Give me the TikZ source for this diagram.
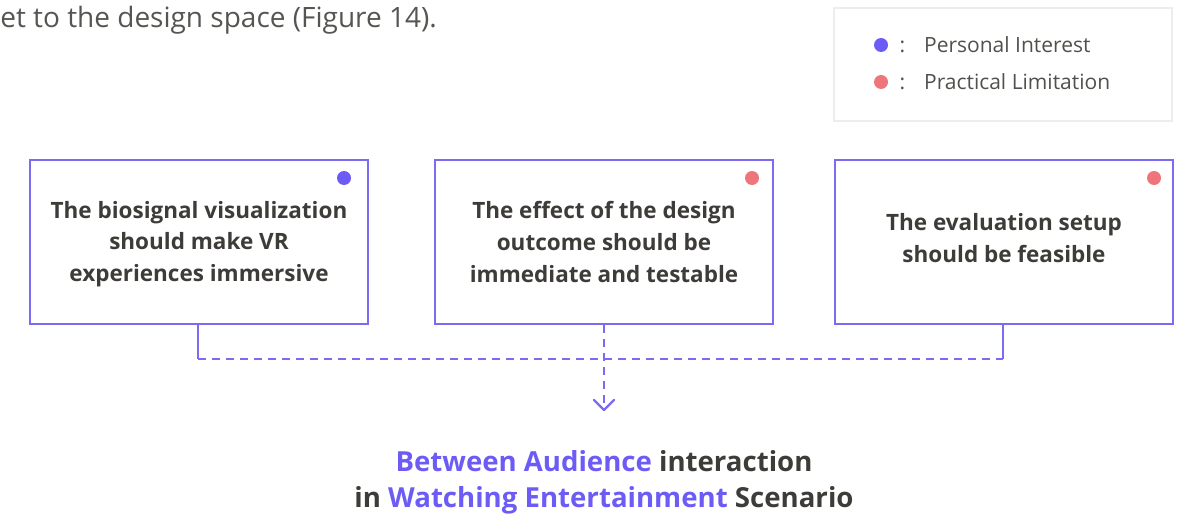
\documentclass[tikz,border=0pt]{standalone}
\usepackage{fontspec}
\setmainfont{Open Sans}
\usetikzlibrary{arrows.meta,calc}
\definecolor{frame}{HTML}{7B6AF2}
\definecolor{ink}{HTML}{3D3C38}
\definecolor{interest}{HTML}{6C5CF5}
\definecolor{limit}{HTML}{EE757A}
\definecolor{legendline}{HTML}{EDEDED}
\definecolor{prose}{HTML}{555552}
\tikzset{
  card/.style={draw=frame, line width=2.2pt, minimum width=338pt, minimum height=164pt, inner sep=0pt},
  cardtext/.style={text=ink, font=\fontsize{22.5}{31.5}\selectfont\bfseries, align=center},
  marker/.style={circle, inner sep=0pt, minimum size=14pt},
  legendtext/.style={text=ink!90, font=\fontsize{21}{20}\selectfont, anchor=west},
  feed/.style={draw=frame, line width=2.4pt},
  feeddash/.style={draw=frame, line width=2.4pt, dash pattern=on 8pt off 6pt},
}
\begin{document}
\begin{tikzpicture}[x=1pt,y=-1pt]
\useasboundingbox (0,0) rectangle (1182,516);

% running text above
\node[anchor=base east, text=prose, font=\fontsize{28}{30}\selectfont, inner sep=0pt] (prose) at (437,28) {et to the design space (Figure 14).};

% legend
\node[draw=legendline, line width=2pt, minimum width=338pt, minimum height=113pt, inner sep=0pt] (legend) at (1003,64.5) {};
\node[marker, fill=interest] (li) at (881,45) {};
\node[marker, fill=limit] (ll) at (881,82) {};
\node[legendtext] (lit) at (896,45) {:\hspace{19pt}Personal Interest};
\node[legendtext] (llt) at (896,82) {:\hspace{19pt}Practical Limitation};

% requirement cards
\node[card] (c1) at (199,242) {};
\node[card] (c2) at (604,242) {};
\node[card] (c3) at (1004,242) {};

\node[marker, fill=interest] (d1) at (344,178) {};
\node[marker, fill=limit] (d2) at (752,178) {};
\node[marker, fill=limit] (d3) at (1154,178) {};

\node[cardtext] (t1) at (199,244) {The biosignal visualization\\should make VR\\experiences immersive};
\node[cardtext] (t2) at (604,242) {The effect of the design\\outcome should be\\immediate and testable};
\node[cardtext] (t3) at (1004,238) {The evaluation setup\\should be feasible};

% connectors
\coordinate (j1) at (198,359);
\coordinate (j3) at (1003,359);
\coordinate (tip) at (604,410);
\draw[feed] (c1.south -| j1) -- (j1);
\draw[feed] (c3.south -| j3) -- (j3);
\draw[feeddash] (j1) -- (j3);
\draw[feeddash] (c2.south) -- (tip);
\draw[frame, line width=2.4pt, line cap=round, line join=round] ($(tip)+(-10,-10)$) -- (tip) -- ($(tip)+(10,-10)$);

% outcome
\node[text=ink, font=\fontsize{27.6}{36}\selectfont\bfseries, align=center] (out) at (604,482)
  {\textcolor{interest}{Between Audience} interaction\\in \textcolor{interest}{Watching Entertainment} Scenario};
\end{tikzpicture}
\end{document}
